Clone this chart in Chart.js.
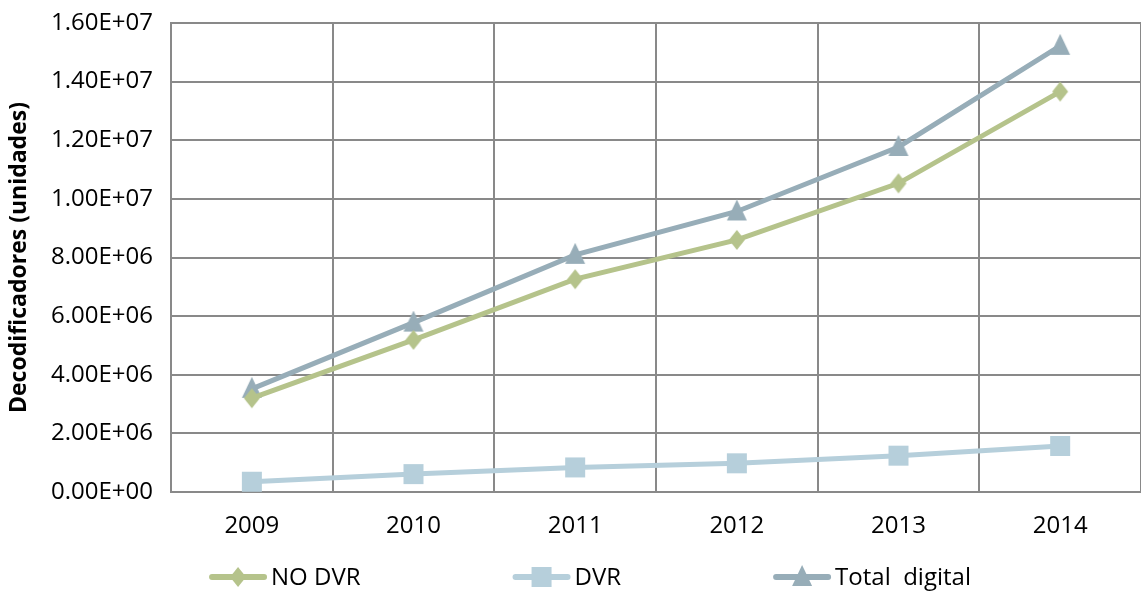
<!DOCTYPE html>
<html>
<head>
<meta charset="utf-8">
<script src="https://cdn.jsdelivr.net/npm/chart.js@4/dist/chart.umd.min.js"></script>
<style>
  body { margin: 0; overflow: hidden; background: #fff; }
</style>
</head>
<body>
<canvas id="chart" width="1150" height="591"></canvas>
<script>
const years = ['2009', '2010', '2011', '2012', '2013', '2014'];
const noDvr = [3.20e6, 5.19e6, 7.26e6, 8.60e6, 10.53e6, 13.66e6];
const dvr = [0.35e6, 0.61e6, 0.84e6, 0.98e6, 1.24e6, 1.57e6];
const totalDigital = [3.52e6, 5.78e6, 8.09e6, 9.57e6, 11.77e6, 15.22e6];
const seriesNames = ['NO DVR', 'DVR', 'Total  digital'];
const yMax = 1.6e7;
const yStep = 2e6;

const colors = ['#b5c38b', '#b6cfdb', '#97adb8'];
const shapes = ['diamond', 'square', 'triangle'];
const fontFamily = '"Open Sans", "Liberation Sans", sans-serif';

function drawShape(ctx, shape, cx, cy) {
  ctx.beginPath();
  if (shape == 'diamond') {
    ctx.moveTo(cx, cy - 10); ctx.lineTo(cx + 8, cy); ctx.lineTo(cx, cy + 10); ctx.lineTo(cx - 8, cy);
  } else if (shape == 'square') {
    ctx.rect(cx - 10, cy - 10, 20, 20);
  } else {
    ctx.moveTo(cx, cy - 12); ctx.lineTo(cx + 10, cy + 9); ctx.lineTo(cx - 10, cy + 9);
  }
  ctx.closePath();
  ctx.fill();
}

function marker(shape, color) {
  const c = document.createElement('canvas');
  c.width = 22; c.height = 24;
  const ctx = c.getContext('2d');
  ctx.fillStyle = color;
  drawShape(ctx, shape, 11, 12);
  return c;
}

function fmtExp(v) {
  if (v == 0) return '0.00E+00';
  const e = Math.floor(Math.log10(v) + 1e-9);
  const m = v / Math.pow(10, e);
  return m.toFixed(2) + 'E+' + String(e).padStart(2, '0');
}

// legend: short line with the marker in the middle, then the name
const lineLegend = {
  id: 'lineLegend',
  afterDraw(chart) {
    const ctx = chart.ctx;
    const lineLen = 58, textGap = 4, itemGap = 152, cx = 590, cy = 577;
    ctx.save();
    ctx.font = '24px ' + fontFamily;
    const items = chart.data.datasets.map((ds, i) => ({ ds: ds, i: i, w: ctx.measureText(ds.label).width }));
    let total = 0;
    items.forEach(it => total += lineLen + textGap + it.w);
    total += itemGap * (items.length - 1);
    let x = cx - total / 2;
    items.forEach(it => {
      ctx.strokeStyle = it.ds.borderColor;
      ctx.lineWidth = 6;
      ctx.lineCap = 'round';
      ctx.beginPath(); ctx.moveTo(x + 3, cy); ctx.lineTo(x + lineLen - 3, cy); ctx.stroke();
      ctx.fillStyle = it.ds.borderColor;
      drawShape(ctx, shapes[it.i], x + lineLen / 2, cy);
      ctx.fillStyle = '#000';
      ctx.textBaseline = 'middle';
      ctx.fillText(it.ds.label, x + lineLen + textGap, cy + 1);
      x += lineLen + textGap + it.w + itemGap;
    });
    ctx.restore();
  }
};

const allData = [noDvr, dvr, totalDigital];
const datasets = allData.map((d, i) => ({
  label: seriesNames[i],
  data: d,
  borderColor: colors[i],
  backgroundColor: colors[i],
  borderWidth: 5,
  pointStyle: marker(shapes[i], colors[i]),
  tension: 0
}));

const font = { family: fontFamily, size: 24 };

new Chart(document.getElementById('chart').getContext('2d'), {
  type: 'line',
  data: { labels: years, datasets: datasets },
  plugins: [lineLegend],
  options: {
    responsive: false,
    animation: false,
    layout: { padding: { top: 23, left: 4, right: 0, bottom: 50 } },
    plugins: {
      tooltip: { enabled: false },
      legend: { display: false }
    },
    scales: {
      x: {
        offset: true,
        afterFit: s => { s.height = 49; },
        grid: { offset: true, color: '#898989', lineWidth: 2, drawTicks: false },
        border: { color: '#898989', width: 2 },
        ticks: { color: '#000', font: font, padding: 20, maxRotation: 0 }
      },
      y: {
        min: 0,
        max: yMax,
        afterFit: s => { s.width = 167; s.paddingTop = 0; s.paddingBottom = 0; },
        grid: { color: '#898989', lineWidth: 2, drawTicks: false },
        border: { color: '#898989', width: 2 },
        ticks: { stepSize: yStep, color: '#000', font: font, padding: 18, callback: v => fmtExp(v) },
        title: { display: true, text: 'Decodificadores (unidades)', color: '#000', font: { family: fontFamily, size: 23, weight: 'bold' }, padding: 2 }
      }
    }
  }
});
</script>
</body>
</html>
